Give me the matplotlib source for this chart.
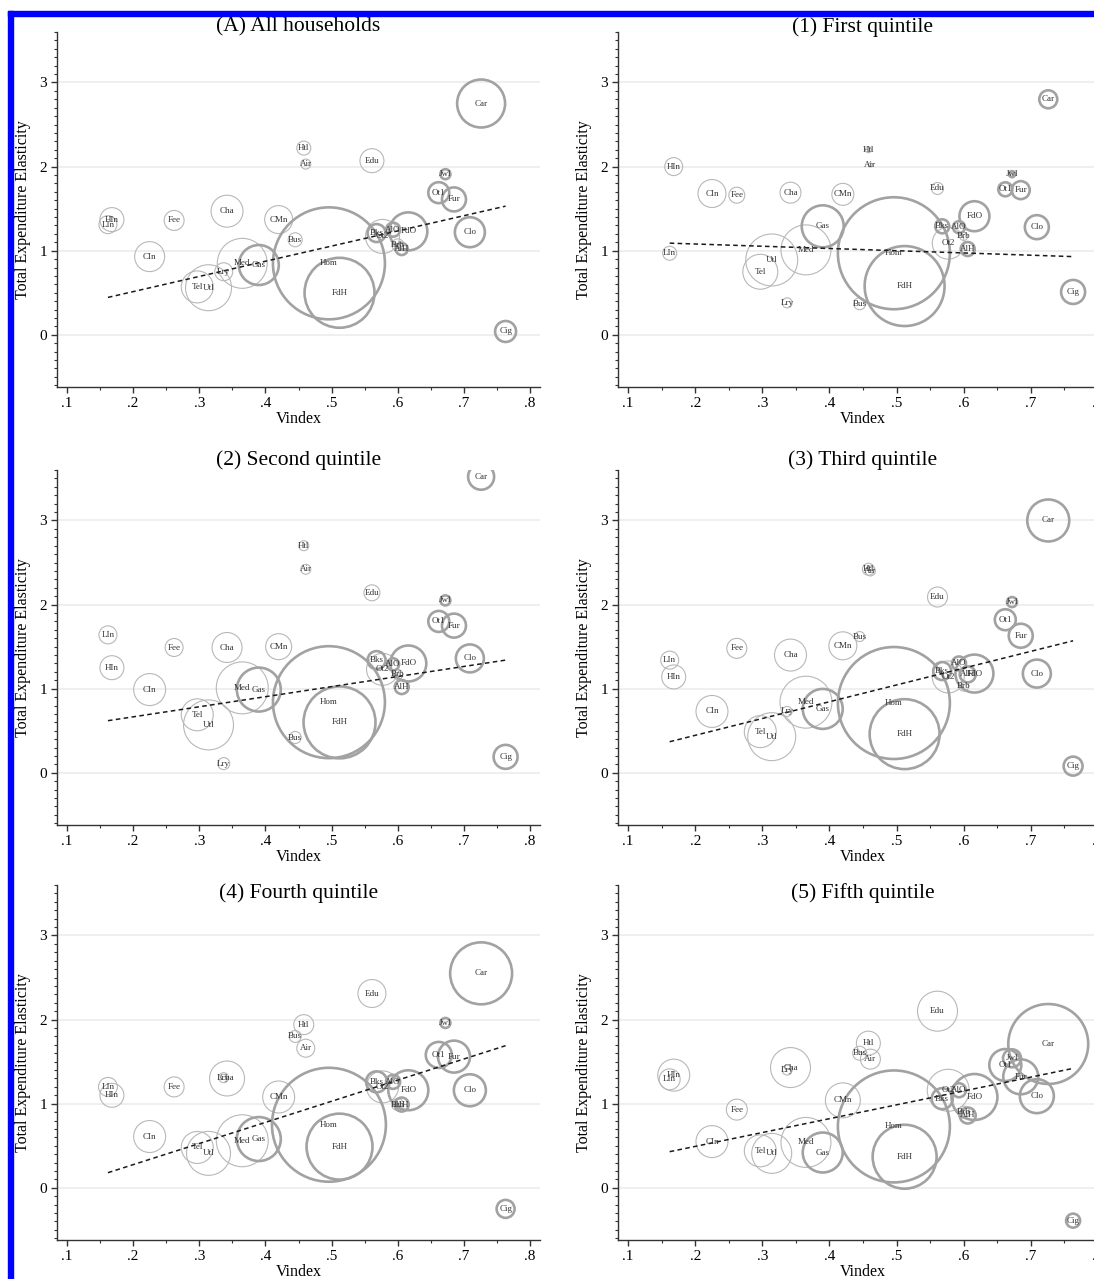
import numpy as np
import matplotlib.pyplot as plt
from matplotlib.patches import Rectangle

plt.rcParams['font.family'] = ['Liberation Serif', 'DejaVu Serif']

# goods, their vindex and whether drawn as a "good" (thick) or a "service" (thin)
names = ['LIn', 'HIn', 'CIn', 'Fee', 'Tel', 'Utl', 'Lry', 'Cha', 'Med', 'Gas',
         'CMn', 'Bus', 'Htl', 'Air', 'Hom', 'FdH', 'Edu', 'Bks', 'Ot2', 'AlO',
         'Brb', 'AlH', 'FdO', 'Ot1', 'Jwl', 'Fur', 'Clo', 'Car', 'Cig']
vindex = [0.162, 0.168, 0.225, 0.262, 0.297, 0.314, 0.337, 0.342, 0.365, 0.390,
          0.420, 0.445, 0.458, 0.461, 0.496, 0.512, 0.561, 0.568, 0.577, 0.593,
          0.600, 0.606, 0.616, 0.662, 0.672, 0.685, 0.709, 0.726, 0.763]
is_good = [0, 0, 0, 0, 0, 0, 0, 0, 0, 1,
           0, 0, 0, 0, 1, 1, 0, 1, 0, 1,
           0, 1, 1, 1, 1, 1, 1, 1, 1]

titles = ['(A) All households', '(1) First quintile', '(2) Second quintile',
          '(3) Third quintile', '(4) Fourth quintile', '(5) Fifth quintile']

# total expenditure elasticities
elas_all = [1.31, 1.37, 0.93, 1.36, 0.57, 0.56, 0.75, 1.47, 0.85, 0.83,
            1.37, 1.13, 2.22, 2.03, 0.85, 0.50, 2.07, 1.21, 1.17, 1.25,
            1.07, 1.02, 1.23, 1.69, 1.91, 1.61, 1.22, 2.75, 0.04]
elas_q1 = [0.97, 2.00, 1.68, 1.66, 0.75, 0.89, 0.38, 1.69, 1.01, 1.29,
           1.67, 0.37, 2.20, 2.02, 0.97, 0.58, 1.74, 1.29, 1.09, 1.28,
           1.17, 1.02, 1.41, 1.73, 1.91, 1.72, 1.28, 2.80, 0.51]
elas_q2 = [1.64, 1.25, 0.99, 1.49, 0.69, 0.57, 0.11, 1.49, 1.01, 0.99,
           1.50, 0.42, 2.70, 2.42, 0.84, 0.60, 2.14, 1.34, 1.23, 1.29,
           1.17, 1.02, 1.30, 1.80, 2.05, 1.75, 1.36, 3.52, 0.19]
elas_q3 = [1.34, 1.14, 0.73, 1.48, 0.49, 0.43, 0.73, 1.40, 0.84, 0.76,
           1.51, 1.62, 2.42, 2.40, 0.83, 0.46, 2.09, 1.21, 1.14, 1.30,
           1.03, 1.17, 1.18, 1.82, 2.03, 1.63, 1.18, 3.00, 0.08]
elas_q4 = [1.20, 1.10, 0.61, 1.20, 0.48, 0.41, 1.31, 1.30, 0.56, 0.58,
           1.08, 1.80, 1.94, 1.66, 0.75, 0.49, 2.31, 1.26, 1.20, 1.26,
           0.99, 0.99, 1.16, 1.58, 1.96, 1.56, 1.16, 2.55, -0.25]
elas_q5 = [1.29, 1.34, 0.55, 0.93, 0.44, 0.41, 1.40, 1.43, 0.54, 0.42,
           1.04, 1.60, 1.72, 1.53, 0.73, 0.37, 2.10, 1.06, 1.16, 1.16,
           0.90, 0.86, 1.08, 1.46, 1.54, 1.32, 1.09, 1.71, -0.39]

# budget shares (%), used as bubble weights
share_all = [0.81, 1.44, 2.25, 1.00, 2.56, 5.29, 0.81, 2.56, 6.25, 4.00,
             1.96, 0.49, 0.49, 0.25, 31.4, 12.25, 1.44, 0.81, 2.89, 0.49,
             0.36, 0.36, 3.61, 1.10, 0.25, 1.44, 2.25, 5.76, 1.10]
share_q1 = [0.49, 0.81, 1.96, 0.64, 3.06, 6.76, 0.25, 1.10, 6.25, 4.41,
            1.21, 0.36, 0.09, 0.04, 31.4, 16.0, 0.36, 0.49, 2.56, 0.36,
            0.16, 0.49, 2.25, 0.49, 0.09, 0.81, 1.44, 0.81, 1.44]
share_q2 = [0.81, 1.44, 2.56, 0.81, 2.56, 6.25, 0.36, 2.25, 6.76, 4.84,
            1.69, 0.36, 0.25, 0.25, 31.4, 12.96, 0.64, 0.81, 2.56, 0.36,
            0.25, 0.49, 3.24, 1.10, 0.25, 1.44, 1.96, 1.69, 1.44]
share_q3 = [0.81, 1.44, 2.56, 1.00, 2.56, 5.76, 0.25, 2.56, 6.76, 4.00,
            1.96, 0.25, 0.36, 0.25, 31.4, 12.25, 1.00, 0.81, 2.56, 0.49,
            0.25, 0.64, 3.61, 1.10, 0.25, 1.44, 1.96, 4.41, 0.90]
share_q4 = [0.90, 1.44, 2.56, 1.00, 2.56, 4.84, 0.25, 3.06, 6.76, 4.84,
            2.56, 0.36, 1.00, 0.81, 32.5, 10.89, 1.96, 1.10, 2.56, 0.49,
            0.36, 0.49, 4.00, 1.69, 0.25, 2.56, 2.56, 9.61, 0.81]
share_q5 = [1.10, 2.56, 2.56, 1.10, 2.56, 4.00, 0.25, 4.00, 6.25, 4.00,
            3.06, 0.49, 1.44, 1.00, 31.4, 10.24, 4.00, 1.10, 4.41, 0.49,
            0.36, 0.64, 5.29, 2.56, 0.81, 3.06, 2.89, 16.0, 0.49]

# fitted line: elasticity at lowest and highest vindex
fit_lo = [0.445, 1.09, 0.62, 0.37, 0.18, 0.43]
fit_hi = [1.53, 0.93, 1.34, 1.57, 1.69, 1.42]

elas = [elas_all, elas_q1, elas_q2, elas_q3, elas_q4, elas_q5]
share = [share_all, share_q1, share_q2, share_q3, share_q4, share_q5]

W, H = 1094, 1279
fig = plt.figure(figsize=(W / 100, H / 100), dpi=100)

col_left = [57, 618]
col_width = [483, 490]
row_bottom = [387, 825, 1240]
row_title = [27, 460, 893]
ax_h = 355

x = np.array(vindex)
good = np.array(is_good) == 1

for k in range(6):
    r, c = divmod(k, 2)
    ax = fig.add_axes([col_left[c] / W, (H - row_bottom[r]) / H,
                       col_width[c] / W, ax_h / H])
    ax.set_xlim(0.085, 0.815)
    ax.set_ylim(-0.62, 3.6)

    y = np.array(elas[k])
    s = 207 * np.array(share[k])

    for yy in [0, 1, 2, 3]:
        ax.axhline(yy, color='#ebebeb', lw=1.1, zorder=0)

    ax.scatter(x[~good], y[~good], s=s[~good], facecolors='none',
               edgecolors='#b8b8b8', linewidths=0.8, zorder=2)
    ax.scatter(x[good], y[good], s=s[good], facecolors='none',
               edgecolors='#a2a2a2', linewidths=1.9, zorder=2)
    for i in range(len(names)):
        ax.text(x[i], y[i], names[i], fontsize=6.5, color='#333333',
                ha='center', va='center', zorder=4)

    ax.plot([x.min(), x.max()], [fit_lo[k], fit_hi[k]], color='#1a1a1a',
            lw=1.1, dashes=(3, 2.2), zorder=3)

    for side in ['top', 'right']:
        ax.spines[side].set_visible(False)
    for side in ['left', 'bottom']:
        ax.spines[side].set_color('#333333')
        ax.spines[side].set_linewidth(1.0)

    ax.set_xticks(np.arange(0.1, 0.81, 0.1))
    ax.set_xticklabels(['.1', '.2', '.3', '.4', '.5', '.6', '.7', '.8'])
    ax.set_xticks(np.arange(0.15, 0.8, 0.1), minor=True)
    ax.set_yticks([0, 1, 2, 3])
    ax.set_yticks(np.arange(-0.6, 3.61, 0.1), minor=True)
    ax.tick_params(which='major', length=4, width=1, color='#333333',
                   labelsize=11, pad=3)
    ax.tick_params(which='minor', length=2.5, width=0.8, color='#333333')

    ax.set_ylabel('Total Expenditure Elasticity', fontsize=11.5, va='center')
    ax.yaxis.set_label_coords(-34 / col_width[c], 0.5)
    ax.set_xlabel('Vindex', fontsize=11.5, labelpad=1)

    fig.text((col_left[c] + col_width[c] / 2) / W, 1 - row_title[r] / H,
             titles[k], fontsize=15.5, ha='center', va='center')

# blue frame on the top and left edge
fig.add_artist(Rectangle((8 / W, 1 - 16 / H), (W - 8) / W, 5 / H,
                         transform=fig.transFigure, color='#0000ff'))
fig.add_artist(Rectangle((8 / W, 0), 5 / W, 1 - 11 / H,
                         transform=fig.transFigure, color='#0000ff'))

fig.savefig('out.png', dpi=100)
